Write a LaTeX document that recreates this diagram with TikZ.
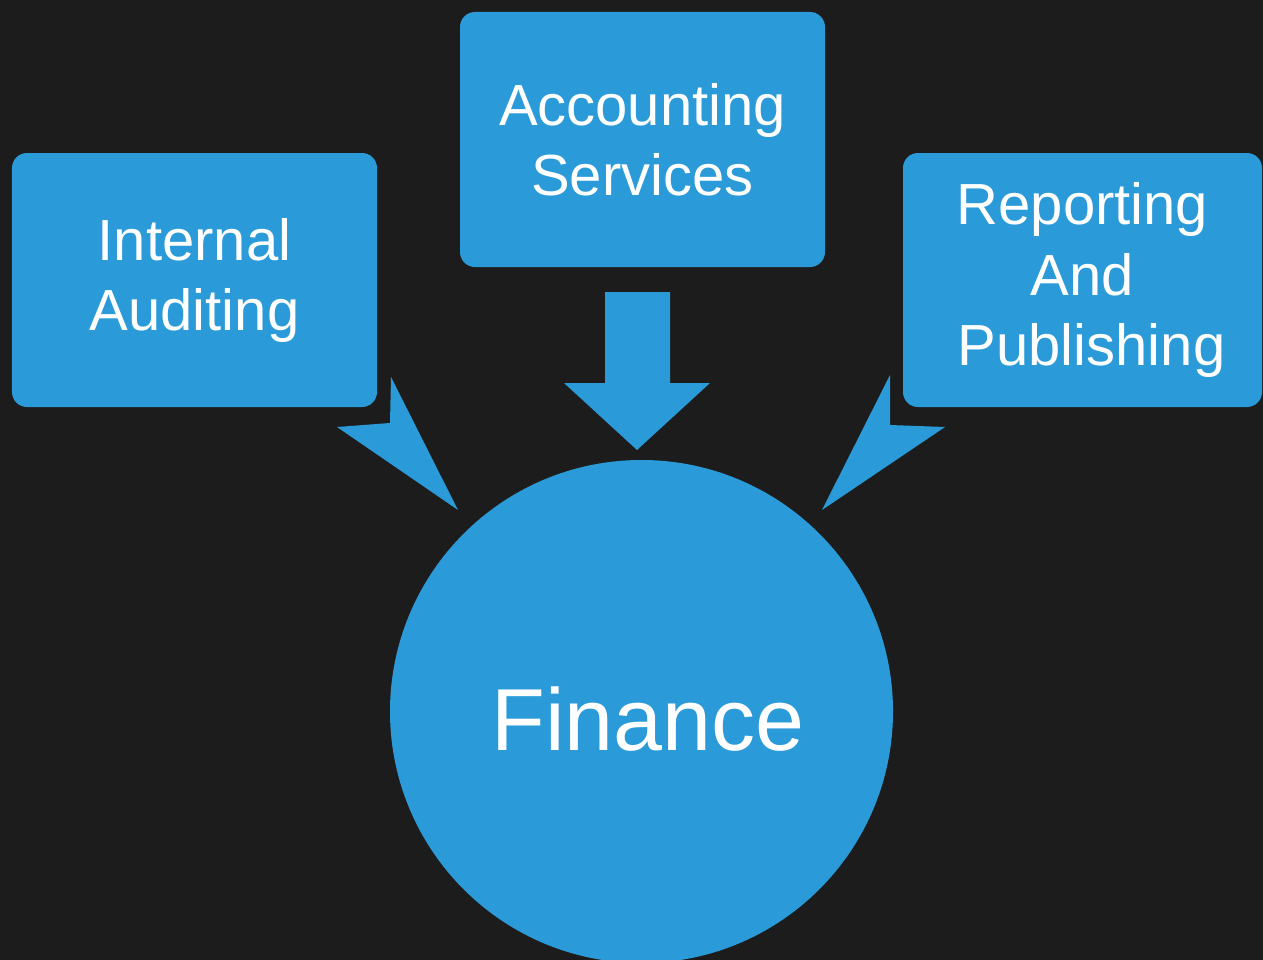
\documentclass[tikz,border=0pt]{standalone}
\usepackage{fontspec}
\setmainfont{Liberation Sans}
\definecolor{bg}{RGB}{28,28,28}
\definecolor{fblue}{RGB}{42,155,216}
\begin{document}
\begin{tikzpicture}[x=1bp,y=-1bp,
  box/.style={fill=fblue, rounded corners=15bp, inner sep=0pt, text=white, align=center,
    font=\fontsize{58bp}{70bp}\selectfont},
  blockarrow/.style={fill=fblue}]
\useasboundingbox (0,0) rectangle (1263,960);
\clip (0,0) rectangle (1263,960);
\fill[bg] (0,0) rectangle (1263,960);
% boxes
\node[box, minimum width=365bp, minimum height=254bp] (ia) at (194.5,280) {Internal\\Auditing};
\node[box, minimum width=365bp, minimum height=255bp] (as) at (642.5,139.5) {Accounting\\Services};
\node[box, minimum width=359bp, minimum height=254bp] (rp) at (1082.5,280) {Reporting\\And\\\hspace*{18bp}Publishing};
% centre circle
\node[circle, fill=fblue, minimum size=503bp, inner sep=0pt] (fin) at (641.5,711.5) {};
\node[anchor=base, text=white, font=\fontsize{88bp}{100bp}\selectfont] (fintext) at (648,750) {Finance};
% arrows
\coordinate (la) at (391,377);
\coordinate (ra) at (890,375);
\coordinate (ma) at (605,292);
\fill[blockarrow] (la) -- (458,510) -- (337,427) -- (390,423) -- cycle;
\fill[blockarrow] (ra) -- (890,425) -- (945,427) -- (822,510) -- cycle;
\fill[blockarrow] (ma) -- (670,292) -- (670,383) -- (710,383) -- (637,450) -- (564,383) -- (605,383) -- cycle;
\end{tikzpicture}
\end{document}
